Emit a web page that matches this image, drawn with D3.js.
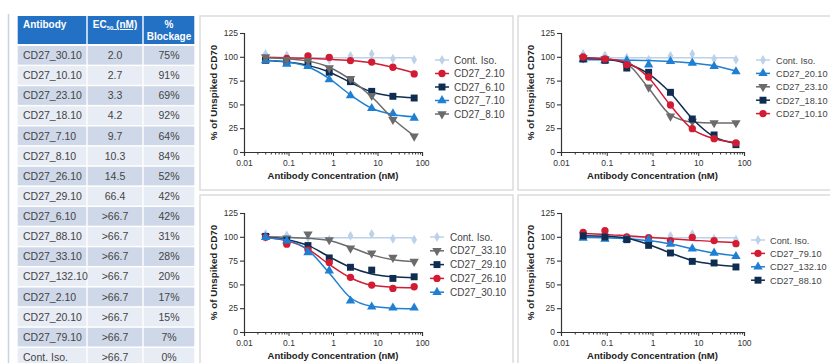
<!DOCTYPE html>
<html><head><meta charset="utf-8">
<script src="https://cdn.jsdelivr.net/npm/d3@7"></script>
<style>
html,body{margin:0;padding:0;background:#fff;}
svg{display:block;}
</style></head>
<body>
<svg id="chart" width="830" height="363"></svg>
<script>
// ---------- DATA ----------
const concentrations = [0.0305, 0.0914, 0.274, 0.823, 2.47, 7.41, 22.2, 66.7];
const xTickValues = [0.01, 0.1, 1, 10, 100];
const xTickLabels = ["0.01", "0.1", "1", "10", "100"];
const yTickValues = [0, 25, 50, 75, 100, 125];

// measured points (% of unspiked CD70)
const contIso     = [103, 101.5, 99, 97, 101, 103, 98, 97];
const cd27_2_10   = [97.7, 98.4, 101, 99.4, 96, 94.5, 89, 82];
const cd27_6_10   = [96.3, 94, 92.4, 83.7, 73.9, 63.7, 58.5, 56.7];
const cd27_7_10   = [96, 92.4, 90, 76, 59.2, 45.9, 40.3, 35.7];
const cd27_8_10   = [99.8, 97, 96, 88.2, 77, 59.2, 34, 16.5];
const cd27_20_10  = [97, 96, 96, 91.7, 95.2, 93.5, 90, 84.4];
const cd27_23_10  = [98.7, 97.7, 90, 68, 37.5, 32.2, 30.5, 30.5];
const cd27_18_10  = [97.7, 96.3, 88.2, 83.7, 62.7, 34.7, 17.9, 7.7];
const cd27_10_10  = [99.8, 97.7, 91.7, 78.8, 49.4, 24.5, 14, 9.5];
const cd27_33_10  = [100.4, 98.6, 102.8, 96.8, 88, 82.7, 78.2, 74];
const cd27_29_10  = [100.4, 96, 90.8, 77.8, 68, 65, 56.3, 58];
const cd27_26_10  = [99.6, 92.3, 86.3, 72.9, 57.4, 49.3, 45.8, 47.5];
const cd27_30_10  = [99.6, 95.8, 83.5, 64.4, 32.7, 26.4, 25.4, 25.4];
const cd27_79_10  = [104.7, 106.4, 99.8, 99, 96, 99.4, 96, 92.8];
const cd27_132_10 = [98.7, 97.7, 97.5, 97, 92.4, 87.5, 83, 79.5];
const cd27_88_10  = [101, 99.8, 97, 91, 83, 74.2, 72.5, 68.3];

// fitted curve values read at the same concentrations
const fitContIso  = [99, 99, 99, 99, 99, 99, 99, 99];
const fit2_10     = [99.5, 99, 98.5, 97.5, 96, 93.5, 89, 83];
const fit6_10     = [96, 94.5, 91, 84, 73, 63, 58.5, 57];
const fit7_10     = [96, 94.5, 89.5, 77, 60, 46, 39.5, 37];
const fit8_10     = [99, 98, 95.5, 89, 76, 58, 35, 17];
const fit20_10    = [97, 97, 96.5, 96, 95, 93.5, 90.5, 85];
const fit23_10    = [99, 98, 92.5, 67, 39, 31.5, 30.5, 30.5];
const fit18_10    = [98.5, 97.5, 93, 82, 62, 35, 16, 9];
const fit10_10    = [99, 98, 94, 78, 49, 24, 14, 10];
const fit33_10    = [100, 99.5, 98.5, 96, 89, 81, 76, 74];
const fit29_10    = [99.5, 97, 91, 79, 68, 61, 58, 57];
const fit26_10    = [99, 96, 87, 71, 57, 49, 47, 46.5];
const fit30_10    = [99, 96.5, 86, 62, 36, 27, 25, 24.5];
const fit79_10    = [103.5, 102.5, 101, 99.5, 98, 96.5, 95, 94];
const fit132_10   = [99.5, 99, 98, 96, 92.5, 87.5, 83, 80];
const fit88_10    = [101, 100.5, 98.5, 92, 83, 75, 71, 69];

// table
const tableHeaders = ["Antibody", "EC50 (nM)", "% Blockage"];
const tableAntibodies = ["CD27_30.10","CD27_10.10","CD27_23.10","CD27_18.10","CD27_7.10","CD27_8.10","CD27_26.10","CD27_29.10","CD27_6.10","CD27_88.10","CD27_33.10","CD27_132.10","CD27_2.10","CD27_20.10","CD27_79.10","Cont. Iso."];
const tableEC50 = ["2.0","2.7","3.3","4.2","9.7","10.3","14.5","66.4",">66.7",">66.7",">66.7",">66.7",">66.7",">66.7",">66.7",">66.7"];
const tableBlockage = ["75%","91%","69%","92%","64%","84%","52%","42%","42%","31%","28%","20%","17%","15%","7%","0%"];

// ---------- STYLES ----------
const styles = {
  iso:   {color:"#bcd1ea", symbol:d3.symbolDiamond, size:28},
  red:   {color:"#d21c33", symbol:d3.symbolCircle, size:42},
  navy:  {color:"#0e2d50", symbol:d3.symbolSquare, size:48},
  blue:  {color:"#1e7fd3", symbol:d3.symbolTriangle, size:38},
  grey:  {color:"#6b6b6b", symbol:d3.symbolTriangle, size:38, flip:true}
};

const panels = [
  {xr:[244,422], yr:[152,33], legX:442, legTx:454, legY:60, legStep:13.5, legFs:10,
   series:[
     {name:"Cont. Iso.", pts:contIso, fit:fitContIso, st:"iso"},
     {name:"CD27_2.10", pts:cd27_2_10, fit:fit2_10, st:"red"},
     {name:"CD27_6.10", pts:cd27_6_10, fit:fit6_10, st:"navy"},
     {name:"CD27_7.10", pts:cd27_7_10, fit:fit7_10, st:"blue"},
     {name:"CD27_8.10", pts:cd27_8_10, fit:fit8_10, st:"grey"}]},
  {xr:[561,744], yr:[152,33], legX:763, legTx:776, legY:60, legStep:13.4, legFs:9.2,
   series:[
     {name:"Cont. Iso.", pts:contIso, fit:fitContIso, st:"iso"},
     {name:"CD27_20.10", pts:cd27_20_10, fit:fit20_10, st:"blue"},
     {name:"CD27_23.10", pts:cd27_23_10, fit:fit23_10, st:"grey"},
     {name:"CD27_18.10", pts:cd27_18_10, fit:fit18_10, st:"navy"},
     {name:"CD27_10.10", pts:cd27_10_10, fit:fit10_10, st:"red"}]},
  {xr:[244,422], yr:[332,213], legX:437, legTx:450, legY:237, legStep:13.8, legFs:10,
   series:[
     {name:"Cont. Iso.", pts:contIso, fit:fitContIso, st:"iso"},
     {name:"CD27_33.10", pts:cd27_33_10, fit:fit33_10, st:"grey"},
     {name:"CD27_29.10", pts:cd27_29_10, fit:fit29_10, st:"navy"},
     {name:"CD27_26.10", pts:cd27_26_10, fit:fit26_10, st:"red"},
     {name:"CD27_30.10", pts:cd27_30_10, fit:fit30_10, st:"blue"}]},
  {xr:[561,744], yr:[332,213], legX:758, legTx:770, legY:240, legStep:13.4, legFs:9.2,
   series:[
     {name:"Cont. Iso.", pts:contIso, fit:fitContIso, st:"iso"},
     {name:"CD27_79.10", pts:cd27_79_10, fit:fit79_10, st:"red"},
     {name:"CD27_132.10", pts:cd27_132_10, fit:fit132_10, st:"blue"},
     {name:"CD27_88.10", pts:cd27_88_10, fit:fit88_10, st:"navy"}]}
];

const svg = d3.select("#chart");
svg.append("rect").attr("width",830).attr("height",363).attr("fill","#fff");

// ---------- LEFT TABLE ----------
svg.append("line").attr("x1",8.5).attr("x2",8.5).attr("y1",14).attr("y2",363)
  .attr("stroke","#c7d3e6").attr("stroke-width",1.5);

const colEdges = [17, 87, 143, 195];
const headTop = 16, headBot = 44, rowTop = 46, rowH = 20.13;
const tg = svg.append("g").attr("font-family","'Liberation Sans Narrow','Arial Narrow','Liberation Sans',Arial,sans-serif");
for (let c=0;c<3;c++){
  tg.append("rect").attr("x",colEdges[c]+0.7).attr("y",headTop)
    .attr("width",colEdges[c+1]-colEdges[c]-1.4).attr("height",headBot-headTop)
    .attr("fill","#2271c5");
}
tg.append("text").attr("x",23).attr("y",28).attr("fill","#fff").attr("font-weight","bold")
  .attr("font-size",10).text(tableHeaders[0]);
const ecT = tg.append("text").attr("x",115).attr("y",28).attr("fill","#fff").attr("font-weight","bold")
  .attr("font-size",10).attr("text-anchor","middle");
ecT.append("tspan").text("EC");
ecT.append("tspan").attr("font-size",6).attr("dy",2).text("50");
ecT.append("tspan").attr("dy",-2).attr("text-decoration","underline").text(" (nM)");
tg.append("text").attr("x",169).attr("y",28).attr("fill","#fff").attr("font-weight","bold")
  .attr("font-size",10).attr("text-anchor","middle").text(tableHeaders[2].split(" ")[0]);
tg.append("text").attr("x",169).attr("y",40).attr("fill","#fff").attr("font-weight","bold")
  .attr("font-size",10).attr("text-anchor","middle").text(tableHeaders[2].split(" ")[1]);

tableAntibodies.forEach((ab,i)=>{
  const y0 = rowTop + i*rowH;
  const fill = i%2===0 ? "#cfd8e8" : "#e8ecf4";
  for (let c=0;c<3;c++){
    tg.append("rect").attr("x",colEdges[c]+0.7).attr("y",y0)
      .attr("width",colEdges[c+1]-colEdges[c]-1.4).attr("height",rowH-1.5).attr("fill",fill);
  }
  const ty = y0 + rowH/2 + 3;
  tg.append("text").attr("x",23).attr("y",ty).attr("font-size",10.5).attr("fill","#444").text(ab);
  tg.append("text").attr("x",115).attr("y",ty).attr("font-size",10.5).attr("fill","#444")
    .attr("text-anchor","middle").text(tableEC50[i]);
  tg.append("text").attr("x",169).attr("y",ty).attr("font-size",10.5).attr("fill","#444")
    .attr("text-anchor","middle").text(tableBlockage[i]);
});

// ---------- PANEL BOXES ----------
const boxes = [[200,16,313,174],[518,16,320,174],[200,195,313,175],[518,195,320,175]];
boxes.forEach(b=>{
  svg.append("rect").attr("x",b[0]).attr("y",b[1]).attr("width",b[2]).attr("height",b[3])
    .attr("fill","none").attr("stroke","#dcdcdc").attr("stroke-width",1.5);
});

// ---------- CHARTS ----------
const fontMain = "'Liberation Sans',Arial,sans-serif";
function marker(g, st, x, y){
  const s = styles[st];
  g.append("path").attr("d", d3.symbol().type(s.symbol).size(s.size)())
    .attr("transform", `translate(${x},${y})` + (s.flip?" rotate(180)":""))
    .attr("fill", s.color);
}

panels.forEach(p=>{
  const g = svg.append("g").attr("font-family",fontMain);
  const x = d3.scaleLog().domain([0.01,100]).range(p.xr);
  const y = d3.scaleLinear().domain([0,125]).range(p.yr);

  // y axis
  const ya = d3.axisLeft(y).tickValues(yTickValues).tickSize(4).tickPadding(2);
  const yg = g.append("g").attr("transform",`translate(${p.xr[0]},0)`).call(ya);
  yg.select(".domain").attr("stroke","#333").attr("stroke-width",1.2);
  yg.selectAll(".tick line").attr("stroke","#333").attr("stroke-width",1.1);
  yg.selectAll(".tick text").attr("font-size",8.5).attr("fill","#333").attr("font-family",fontMain);

  // x axis with minor ticks
  const minor = [];
  for (let e=-2;e<2;e++) for (let k=1;k<=9;k++) minor.push(k*Math.pow(10,e));
  minor.push(100);
  const xa = d3.axisBottom(x).tickValues(minor).tickSizeOuter(0).tickSize(4).tickPadding(4)
    .tickFormat(d=>{ const idx = xTickValues.findIndex(v=>Math.abs(v-d)/v<1e-6); return idx>=0?xTickLabels[idx]:""; });
  const xg = g.append("g").attr("transform",`translate(0,${p.yr[0]})`).call(xa);
  xg.select(".domain").attr("stroke","#333").attr("stroke-width",1.2);
  xg.selectAll(".tick line").attr("stroke","#333").attr("stroke-width",1)
    .attr("y2", d=> xTickValues.some(v=>Math.abs(v-d)/v<1e-6) ? 4 : 2.5);
  xg.selectAll(".tick text").attr("font-size",8.5).attr("fill","#333").attr("font-family",fontMain);

  // titles
  const cx = (p.xr[0]+p.xr[1])/2;
  g.append("text").attr("x",cx).attr("y",p.yr[0]+27).attr("text-anchor","middle")
    .attr("font-size",9.5).attr("font-weight","bold").attr("fill","#222").text("Antibody Concentration (nM)");
  const cy = (p.yr[0]+p.yr[1])/2;
  g.append("text").attr("transform",`translate(${p.xr[0]-27},${cy}) rotate(-90)`).attr("text-anchor","middle")
    .attr("font-size",9.8).attr("font-weight","bold").attr("fill","#222").text("% of Unspiked CD70");

  // curves and points
  const line = d3.line().x(d=>x(d[0])).y(d=>y(d[1])).curve(d3.curveMonotoneX);
  p.series.forEach(s=>{
    const st = styles[s.st];
    g.append("path").attr("d", line(concentrations.map((c,i)=>[c,s.fit[i]])))
      .attr("fill","none").attr("stroke",st.color).attr("stroke-width",1.5);
    s.pts.forEach((v,i)=> marker(g, s.st, x(concentrations[i]), y(v)));
  });

  // legend
  p.series.forEach((s,i)=>{
    const ly = p.legY + i*p.legStep;
    const st = styles[s.st];
    g.append("line").attr("x1",p.legX-7).attr("x2",p.legX+7).attr("y1",ly).attr("y2",ly)
      .attr("stroke",st.color).attr("stroke-width",1.5);
    marker(g, s.st, p.legX, ly);
    g.append("text").attr("x",p.legTx).attr("y",ly+3.5).attr("font-size",p.legFs).attr("fill","#444").text(s.name);
  });
});
</script>
</body></html>
